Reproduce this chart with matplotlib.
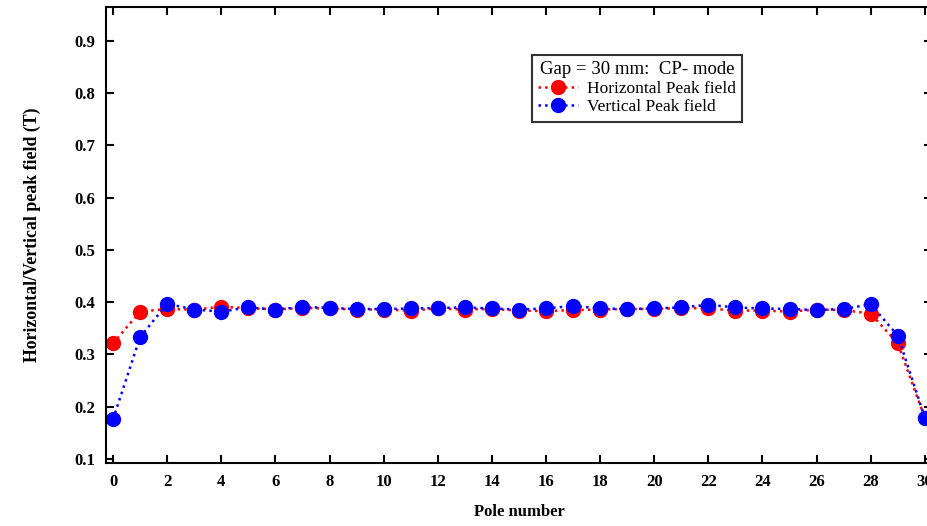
import numpy as np
import matplotlib
matplotlib.use('Agg')
import matplotlib.pyplot as plt

plt.rcParams['font.family'] = ['Liberation Serif', 'DejaVu Serif']

# pole numbers and peak fields (T)
poles = list(range(0, 31))
horizontal = [0.321, 0.382, 0.387, 0.386, 0.391, 0.389, 0.386, 0.389, 0.388, 0.386,
              0.386, 0.384, 0.388, 0.386, 0.387, 0.384, 0.383, 0.385, 0.386, 0.387,
              0.387, 0.389, 0.388, 0.384, 0.384, 0.382, 0.386, 0.385, 0.378, 0.321,
              0.178]
vertical = [0.176, 0.333, 0.397, 0.386, 0.382, 0.390, 0.386, 0.391, 0.389, 0.387,
            0.387, 0.388, 0.389, 0.390, 0.388, 0.386, 0.388, 0.393, 0.388, 0.387,
            0.388, 0.390, 0.395, 0.390, 0.388, 0.387, 0.385, 0.387, 0.396, 0.336,
            0.179]

legend_title = 'Gap = 30 mm:  CP- mode'
labels = ['Horizontal Peak field', 'Vertical Peak field']

fig = plt.figure(figsize=(9.28, 5.26), dpi=100)
ax = fig.add_axes([0.1142, 0.1198, 0.890, 0.8669])

ax.plot(poles, horizontal, ':', color='#ff0000', lw=1.8, marker='o', ms=10,
        label=labels[0])
ax.plot(poles, vertical, ':', color='#0000ff', lw=1.8, marker='o', ms=10,
        label=labels[1])

ax.set_xlim(-0.26, 30.26)
ax.set_ylim(0.0923, 0.965)
ax.set_xticks(range(0, 31, 2))
ax.set_yticks([0.1, 0.2, 0.3, 0.4, 0.5, 0.6, 0.7, 0.8, 0.9])
ax.set_yticklabels(['0.1', '0.2', '0.3', '0.4', '0.5', '0.6', '0.7', '0.8', '0.9'])

ax.tick_params(direction='in', top=True, right=True, length=6, width=1.5,
               labelsize=12, pad=8)
for t in ax.get_xticklabels() + ax.get_yticklabels():
    t.set_fontweight('bold')
for s in ax.spines.values():
    s.set_linewidth(1.5)

ax.set_xlabel('Pole number', fontsize=12, fontweight='bold', labelpad=10)
ax.set_ylabel('Horizontal/Vertical peak field (T)', fontsize=12.8, fontweight='bold',
              labelpad=24)

leg = ax.legend(title=legend_title, loc='upper left', bbox_to_anchor=(0.516, 0.895),
                fontsize=12.5, title_fontsize=13.5, frameon=True, fancybox=False,
                edgecolor='black', handlelength=2.3, handletextpad=0.5,
                borderpad=0.35, labelspacing=0.15, borderaxespad=0)
leg.get_frame().set_linewidth(1.5)

fig.savefig('out.png', dpi=100)
